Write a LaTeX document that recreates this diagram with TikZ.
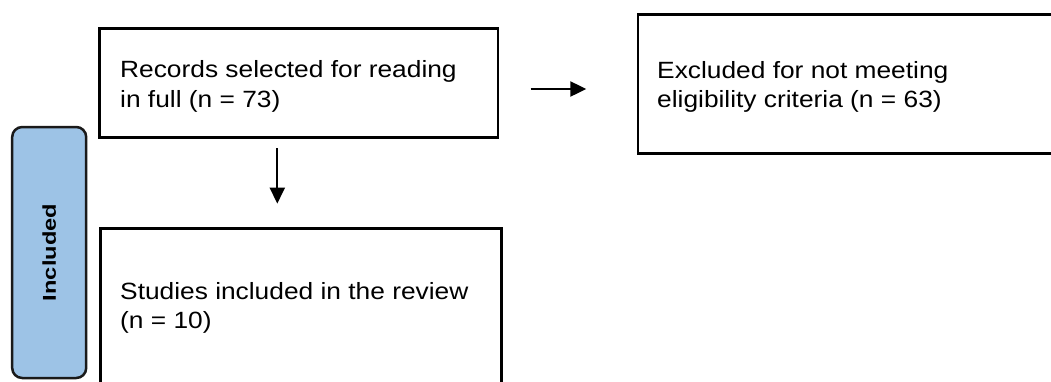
\documentclass[tikz,border=0pt]{standalone}
\usepackage{fontspec}
\usetikzlibrary{arrows.meta}
\newfontfamily\mainf[FakeStretch=1.12]{Liberation Sans}
\newfontfamily\incf[FakeStretch=1.27]{Liberation Sans}
\definecolor{incblue}{HTML}{9DC3E6}
\definecolor{incline}{HTML}{1A1A1A}
\tikzset{
  box/.style={draw=black, line width=2.8pt, rectangle, inner sep=0pt},
  boxtext/.style={anchor=base west, align=left, inner sep=0pt,
    font=\mainf\fontsize{23.5}{29.6}\selectfont},
  stagebox/.style={draw=incline, fill=incblue, line width=2.5pt, rounded corners=10pt,
    minimum width=74pt, minimum height=251pt, inner sep=0pt},
  stagetext/.style={rotate=90, inner sep=0pt, font=\incf\bfseries\fontsize{18.6}{20}\selectfont},
  arr/.style={line width=2.2pt, -{Triangle[length=16pt,width=15pt]}}
}
\begin{document}
\begin{tikzpicture}[x=1pt,y=-1pt]
\useasboundingbox (0,0) rectangle (1051,381);
\clip (0,0) rectangle (1051,381);
% boxes
\node[box, minimum width=398.5pt, minimum height=108.8pt] (b1) at (298.75,83.1) {};
\node[box, minimum width=401pt, minimum height=157.3pt] (b2) at (301,307.35) {};
\node[box, minimum width=432pt, minimum height=138.8pt] (b3) at (854,83.9) {};
\node[stagebox] (inc) at (49.2,252.5) {};
% texts (base anchor = baseline of the last line)
\node[boxtext] (t1) at (120,107.4) {Records selected for reading\\in full (n = 73)};
\node[boxtext] (t2) at (120,328.9) {Studies included in the review\\(n = 10)};
\node[boxtext] (t3) at (657,107.9) {Excluded for not meeting\\eligibility criteria (n = 63)};
\node[stagetext] (inct) at (inc.center) {Included};
% connectors
\coordinate (r0) at ([yshift=-5.9pt]b1.east);
\draw[arr, shorten <=31.3pt, shorten >=50.3pt] (r0) -- (r0 -| b3.west);
\coordinate (d0) at ([xshift=-21.45pt]b1.south);
\draw[arr, shorten <=9.2pt, shorten >=23.7pt] (d0) -- (d0 |- b2.north);
\end{tikzpicture}
\end{document}
